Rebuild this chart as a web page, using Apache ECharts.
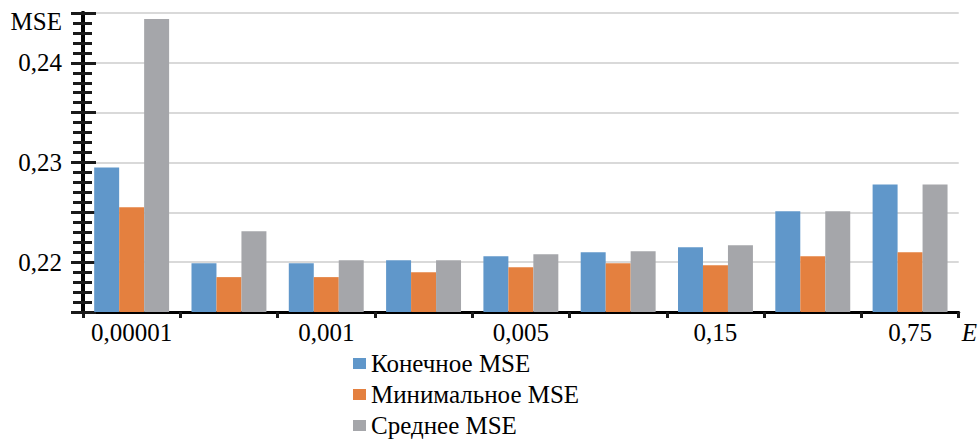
<!DOCTYPE html>
<html>
<head>
<meta charset="utf-8">
<script src="https://cdn.jsdelivr.net/npm/echarts@6/dist/echarts.min.js"></script>
<style>
  html, body { margin: 0; padding: 0; background: #fff; }
  #chart { width: 980px; height: 446px; }
</style>
</head>
<body>
<div id="chart"></div>
<script>
  // категории E (подписаны только через одну, как в оригинале)
  const categories = ['0,00001', '', '0,001', '', '0,005', '', '0,15', '', '0,75']
  const finalMse = [0.2295, 0.2199, 0.2199, 0.2202, 0.2206, 0.2210, 0.2215, 0.2251, 0.2278]
  const minMse = [0.2255, 0.2185, 0.2185, 0.2190, 0.2195, 0.2199, 0.2197, 0.2206, 0.2210]
  const meanMse = [0.2444, 0.2231, 0.2202, 0.2202, 0.2208, 0.2211, 0.2217, 0.2251, 0.2278]
  const yTickLabels = ['0,22', '0,23', '0,24']

  const colors = ['#6097ca', '#e4803f', '#a5a6aa']
  const font = 'Liberation Serif'

  const yMin = 0.215
  const yMax = 0.245
  const yStep = 0.005

  const chart = echarts.init(document.getElementById('chart'), null, { renderer: 'svg' })

  const baseY = {
    type: 'value',
    min: yMin,
    max: yMax,
    interval: yStep,
    position: 'left',
    axisLine: { show: true, lineStyle: { color: '#000', width: 4 } }
  }

  chart.setOption({
    animation: false,
    color: colors,
    textStyle: { fontFamily: font, color: '#000' },
    grid: { left: 83, right: 18, top: 13, bottom: 134, containLabel: false },
    legend: {
      orient: 'vertical',
      left: 353,
      top: 351,
      padding: 0,
      icon: 'rect',
      itemWidth: 13,
      itemHeight: 11,
      itemGap: 6,
      textStyle: { fontFamily: font, fontSize: 25, color: '#000' },
      data: ['Конечное MSE', 'Минимальное MSE', 'Среднее MSE']
    },
    xAxis: {
      type: 'category',
      data: categories,
      name: 'E',
      nameLocation: 'end',
      nameGap: 3,
      nameTextStyle: {
        fontFamily: font, fontSize: 25, fontStyle: 'italic', color: '#000',
        align: 'left', verticalAlign: 'top', padding: [8, 0, 0, 0]
      },
      axisLine: { lineStyle: { color: '#000', width: 3 } },
      axisTick: { show: true, interval: 0, length: 6, lineStyle: { color: '#1a1a1a', width: 3 } },
      axisLabel: { interval: 0, margin: 8, fontFamily: font, fontSize: 25, color: '#000' }
    },
    yAxis: [
      Object.assign({}, baseY, {
        name: 'MSE',
        nameLocation: 'end',
        nameGap: 4,
        nameTextStyle: {
          fontFamily: font, fontSize: 25, color: '#000',
          align: 'right', verticalAlign: 'top', padding: [0, 21, 0, 0]
        },
        axisTick: { show: true, inside: false, length: 12, lineStyle: { color: '#1a1a1a', width: 3 } },
        minorTick: { show: true, splitNumber: 5, length: 10, lineStyle: { color: '#1a1a1a', width: 3 } },
        axisLabel: {
          margin: 21,
          fontFamily: font,
          fontSize: 25,
          color: '#000',
          formatter: function (v) {
            const i = Math.round((v - 0.22) * 100)
            if (Math.abs((v - 0.22) * 100 - i) > 1e-6) return ''
            return yTickLabels[i] || ''
          }
        },
        splitLine: { show: true, lineStyle: { color: '#d9d9d9', width: 2 } }
      }),
      Object.assign({}, baseY, {
        axisTick: { show: true, inside: true, length: 13, lineStyle: { color: '#1a1a1a', width: 3 } },
        minorTick: { show: true, splitNumber: 5, length: 9, lineStyle: { color: '#1a1a1a', width: 3 } },
        axisLabel: { show: false },
        splitLine: { show: false }
      })
    ],
    series: [
      { name: 'Конечное MSE', type: 'bar', yAxisIndex: 0, data: finalMse, barGap: '0%', barCategoryGap: '23%' },
      { name: 'Минимальное MSE', type: 'bar', yAxisIndex: 0, data: minMse, barGap: '0%', barCategoryGap: '23%' },
      { name: 'Среднее MSE', type: 'bar', yAxisIndex: 0, data: meanMse, barGap: '0%', barCategoryGap: '23%' }
    ]
  })
</script>
</body>
</html>
